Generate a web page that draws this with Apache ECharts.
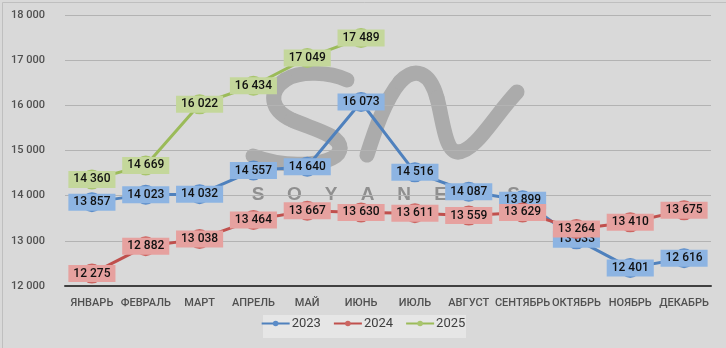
<!DOCTYPE html>
<html><head><meta charset="utf-8">
<script src="https://cdn.jsdelivr.net/npm/echarts@6/dist/echarts.min.js"></script>
<style>html,body{margin:0;padding:0;background:#fff}#c{width:726px;height:348px}</style>
</head><body><div id="c"></div>
<script>
const categories = ['ЯНВАРЬ','ФЕВРАЛЬ','МАРТ','АПРЕЛЬ','МАЙ','ИЮНЬ','ИЮЛЬ','АВГУСТ','СЕНТЯБРЬ','ОКТЯБРЬ','НОЯБРЬ','ДЕКАБРЬ'];
const seriesNames = ['2023','2024','2025'];
const values2023 = [13857,14023,14032,14557,14640,16073,14516,14087,13899,13033,12401,12616];
const values2024 = [12275,12882,13038,13464,13667,13630,13611,13559,13629,13264,13410,13675];
const values2025 = [14360,14669,16022,16434,17049,17489];
const yTicks = [12000,13000,14000,15000,16000,17000,18000];
const watermarkLetters = ['S','O','Y','A','N','E','W','S'];

const fmt = v => String(v).replace(/\B(?=(\d{3})+(?!\d))/g, ' ');
const FONT = 'Roboto, "Open Sans", sans-serif';
const styles = [
  {line:'#4f81bd', sym:'#5b8cc8', box:'#8db4e2'},
  {line:'#c0504d', sym:'#cc6662', box:'#e6a19f'},
  {line:'#9bbb59', sym:'#a9c56e', box:'#c4d79b'}
];
const data = [values2023, values2024, values2025];

// decorative watermark strokes (cubic segments: x1,y1,cp1x,cp1y,cp2x,cp2y,x2,y2)
const wmSegments = [
  [347,80,330,72,300,70,285,80],
  [285,80,268,92,270,110,292,120],
  [292,120,315,130,340,135,340,148],
  [340,148,340,165,290,170,253,156],
  [367,155,375,130,385,100,400,82],
  [400,82,415,66,430,72,437,98],
  [437,98,443,120,445,152,458,152],
  [458,152,475,152,495,115,517,92]
];
const graphics = [
  {type:'rect', left:0, top:0, shape:{width:725, height:347}, style:{fill:'none', stroke:'#bfbfbf', lineWidth:1}, z:-1},
  {type:'rect', left:263, top:315, shape:{width:203, height:23}, style:{fill:'#e6e6e6'}, z:-1}
];
wmSegments.forEach(s=>{
  graphics.push({type:'bezierCurve', silent:true, z:-1,
    shape:{x1:s[0], y1:s[1], cpx1:s[2], cpy1:s[3], cpx2:s[4], cpy2:s[5], x2:s[6], y2:s[7]},
    style:{fill:'none', stroke:'#ababab', lineWidth:15, lineCap:'round'}});
});
watermarkLetters.forEach((ch,i)=>{
  graphics.push({type:'text', x:258 + i*36.5, y:195, silent:true, z:-1,
    style:{text:ch, font:'bold 19px "Liberation Sans"', fill:'#8f8f8f', align:'center', verticalAlign:'middle'}});
});

const chart = echarts.init(document.getElementById('c'));
chart.setOption({
  backgroundColor: '#d9d9d9',
  animation: false,
  graphic: graphics,
  grid: {left:65, right:15, top:15, bottom:62},
  legend: {
    bottom:13, left:'center', itemGap:12, itemWidth:28, itemHeight:7,
    textStyle:{fontFamily:FONT, fontSize:13, color:'#404040', padding:[0,0,0,-3]},
    data: seriesNames
  },
  xAxis: {
    type:'category', data:categories, boundaryGap:true,
    axisLine:{lineStyle:{color:'#404040', width:2}},
    axisTick:{show:false},
    axisLabel:{fontFamily:FONT, fontSize:11, fontWeight:500, color:'#505050', margin:12, interval:0}
  },
  yAxis: {
    type:'value', min:12000, max:18000, interval:1000,
    axisLine:{show:false}, axisTick:{show:false},
    axisLabel:{fontFamily:FONT, fontSize:11, fontWeight:500, color:'#505050', formatter:v=>fmt(v), margin:20},
    splitLine:{lineStyle:{color:'#b3b3b3', width:1}}
  },
  series: data.map((vals,i)=>({
    name: seriesNames[i], type:'line', data: vals,
    symbol:'circle', symbolSize:20,
    lineStyle:{color:styles[i].line, width:3},
    itemStyle:{color:styles[i].sym},
    color: styles[i].line,
    z: 2 + i,
    label:{
      show:true, position:'inside', formatter:p=>fmt(p.value),
      fontFamily:FONT, fontSize:12, fontWeight:500, color:'#111',
      backgroundColor:styles[i].box, padding:[3,5,2,5]
    }
  }))
});
</script></body></html>
